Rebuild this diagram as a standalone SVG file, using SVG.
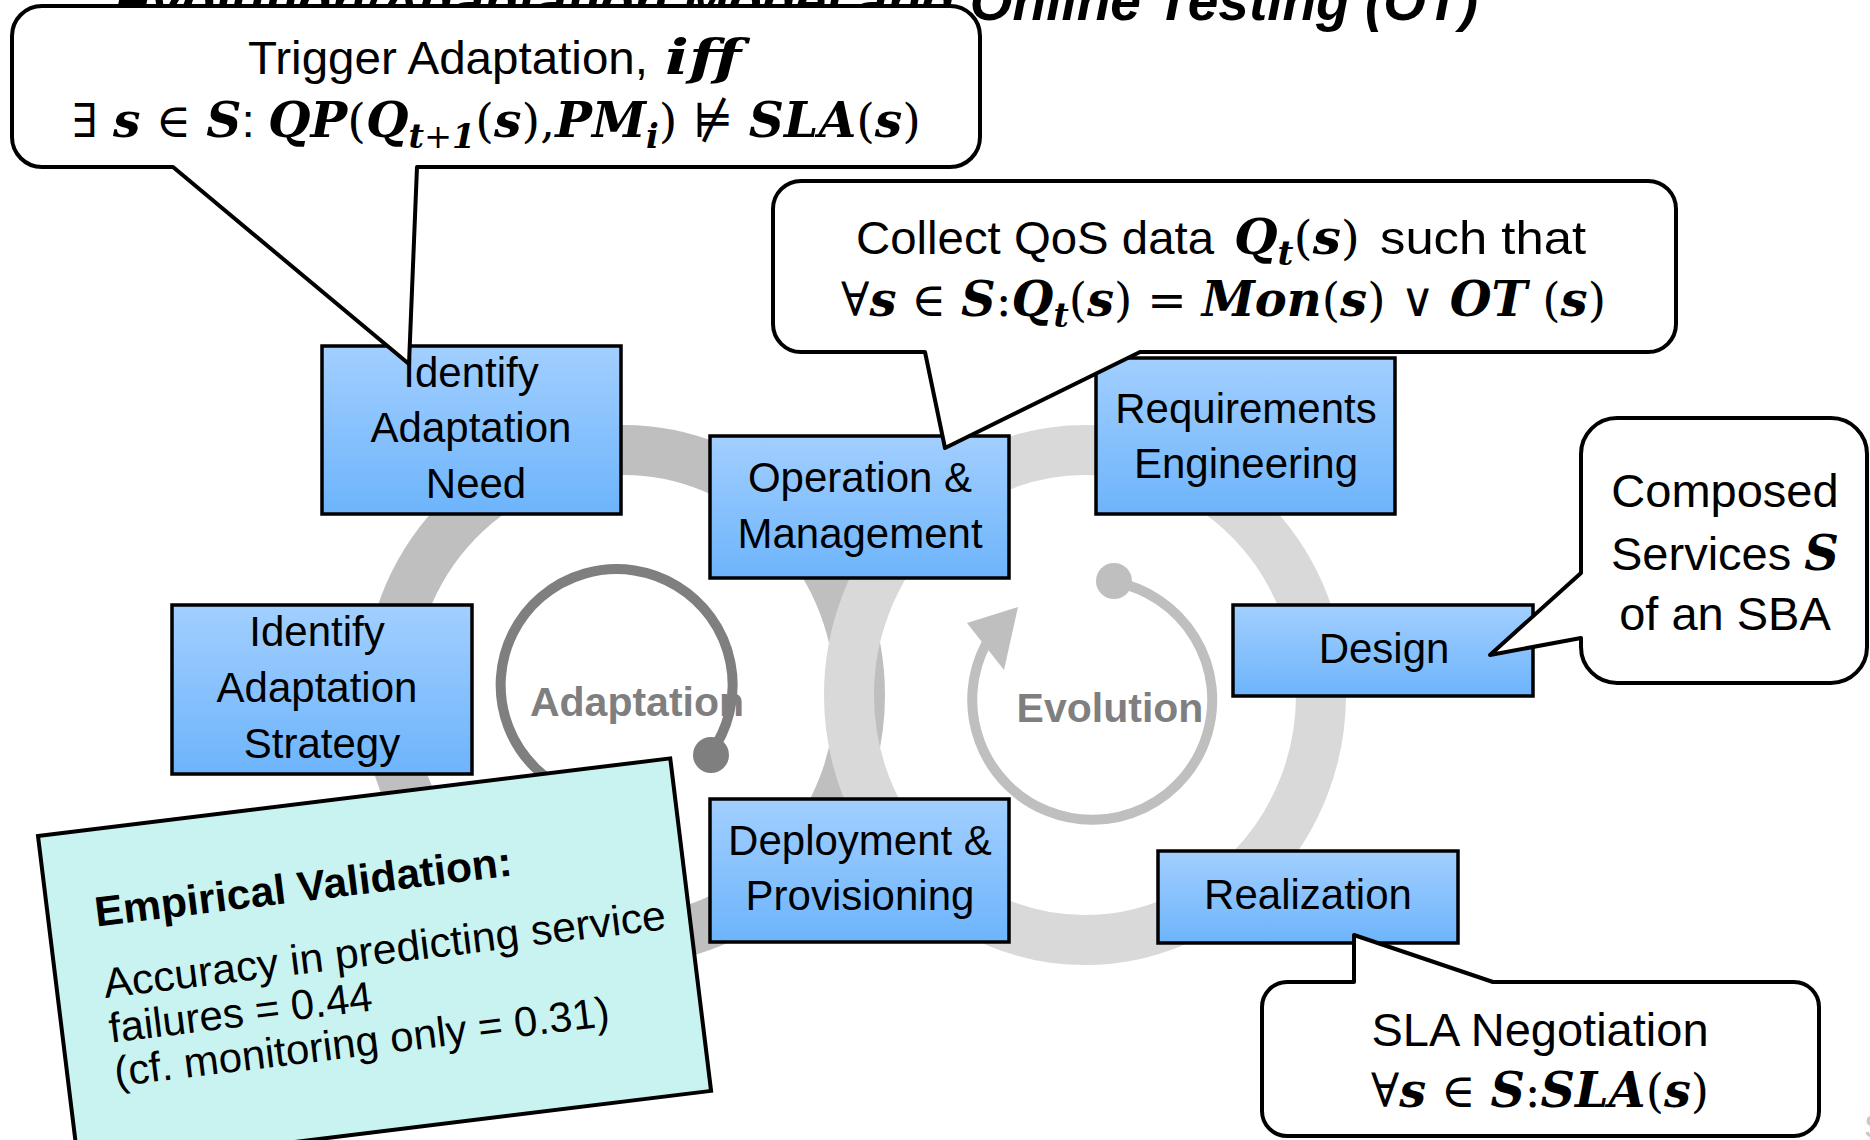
<svg xmlns="http://www.w3.org/2000/svg" width="1870" height="1140" viewBox="0 0 1870 1140">
<defs>
<linearGradient id="blue" x1="0" y1="0" x2="0" y2="1">
<stop offset="0" stop-color="#a2cfff"/>
<stop offset="1" stop-color="#6db4fb"/>
</linearGradient>
<style>
.box{fill:url(#blue);stroke:#000;stroke-width:3.5}
.lbl{font-family:"Liberation Sans",Arial,sans-serif;font-size:42px;fill:#000;text-anchor:middle}
.cal{font-family:"Liberation Sans",Arial,sans-serif;font-size:47px;fill:#000}
.mid{text-anchor:middle}
.callout{fill:#fff;stroke:#000;stroke-width:4;stroke-linejoin:round}
.m{font-family:"DejaVu Serif","Liberation Serif",serif;font-style:italic;font-weight:bold;font-size:48px}
.mu{font-family:"DejaVu Serif","Liberation Serif",serif;font-style:normal;font-weight:normal}
.sub{font-size:33px}
.loop{font-family:"Liberation Sans",Arial,sans-serif;font-size:41px;font-weight:bold;fill:#7f7f7f;text-anchor:middle}
.emp{font-family:"Liberation Sans",Arial,sans-serif;font-size:42px;fill:#000}
</style>
</defs>
<rect width="1870" height="1140" fill="#fff"/>
<text x="1478" y="20" text-anchor="end" font-family="Liberation Sans, Arial, sans-serif" font-size="55" font-weight="bold" font-style="italic" fill="#000">Evolution/Adaptation Model and Online Testing (OT)</text>

<g id="connectors">
<ellipse cx="624" cy="695" rx="236" ry="245" fill="none" stroke="#bfbfbf" stroke-width="50"/>
<ellipse cx="1085" cy="695" rx="236" ry="245" fill="none" stroke="#d9d9d9" stroke-width="50"/>
<text class="loop" x="637" y="716">Adaptation</text>
<text class="loop" x="1110" y="722">Evolution</text>
<path d="M 710 754 A 116 116 0 1 0 574 793" fill="none" stroke="#7f7f7f" stroke-width="10"/>
<circle cx="711" cy="755" r="18" fill="#7f7f7f"/>
<path d="M 1115 582 A 120 120 0 1 1 986 644" fill="none" stroke="#bfbfbf" stroke-width="10"/>
<circle cx="1114" cy="581" r="18" fill="#bfbfbf"/>
<polygon points="967,623 1018,607 1004,670" fill="#bfbfbf"/>
</g>

<g id="identify-need">
<rect class="box" x="322" y="346" width="299" height="168"/>
<text class="lbl"><tspan x="471" y="387">Identify</tspan><tspan x="471" y="442">Adaptation</tspan><tspan x="476" y="498">Need</tspan></text>
</g>
<g id="operation">
<rect class="box" x="710" y="436" width="299" height="142"/>
<text class="lbl"><tspan x="860" y="492">Operation &amp;</tspan><tspan x="860" y="548">Management</tspan></text>
</g>
<g id="requirements">
<rect class="box" x="1096" y="358" width="299" height="156"/>
<text class="lbl"><tspan x="1246" y="423">Requirements</tspan><tspan x="1246" y="478">Engineering</tspan></text>
</g>
<g id="identify-strategy">
<rect class="box" x="172" y="605" width="300" height="169"/>
<text class="lbl"><tspan x="317" y="646">Identify</tspan><tspan x="317" y="702">Adaptation</tspan><tspan x="322" y="758">Strategy</tspan></text>
</g>
<g id="design">
<rect class="box" x="1233" y="605" width="300" height="91"/>
<text class="lbl" x="1384" y="663">Design</text>
</g>
<g id="deployment">
<rect class="box" x="710" y="799" width="299" height="143"/>
<text class="lbl"><tspan x="860" y="855">Deployment &amp;</tspan><tspan x="860" y="910">Provisioning</tspan></text>
</g>
<g id="realization">
<rect class="box" x="1158" y="851" width="300" height="92"/>
<text class="lbl" x="1308" y="909">Realization</text>
</g>

<g id="callout-trigger">
<path class="callout" d="M 42 6 H 950 A 30 30 0 0 1 980 36 V 137 A 30 30 0 0 1 950 167 H 417 L 409 364 L 173 167 H 42 A 30 30 0 0 1 12 137 V 36 A 30 30 0 0 1 42 6 Z"/>
<text class="cal" x="248" y="74" textLength="400" lengthAdjust="spacingAndGlyphs">Trigger Adaptation,</text>
<text class="m" x="665" y="74" textLength="76" lengthAdjust="spacingAndGlyphs">iff</text>
<text class="cal" x="72" y="137" textLength="849" lengthAdjust="spacingAndGlyphs"><tspan class="mu">∃ </tspan><tspan class="m">s</tspan><tspan class="mu"> ∈ </tspan><tspan class="m">S</tspan>: <tspan class="m">QP</tspan><tspan class="mu">(</tspan><tspan class="m">Q</tspan><tspan class="m sub" dy="11">t</tspan><tspan class="mu sub">+</tspan><tspan class="m sub">1</tspan><tspan class="mu" dy="-11">(</tspan><tspan class="m">s</tspan><tspan class="mu">),</tspan><tspan class="m">PM</tspan><tspan class="m sub" dy="11">i</tspan><tspan class="mu" dy="-11">) ⊭ </tspan><tspan class="m">SLA</tspan><tspan class="mu">(</tspan><tspan class="m">s</tspan><tspan class="mu">)</tspan></text>
</g>

<g id="callout-collect">
<path class="callout" d="M 801 181 H 1648 A 28 28 0 0 1 1676 209 V 324 A 28 28 0 0 1 1648 352 H 1140 L 945 448 L 925 352 H 801 A 28 28 0 0 1 773 324 V 209 A 28 28 0 0 1 801 181 Z"/>
<text class="cal" x="856" y="254" textLength="358" lengthAdjust="spacingAndGlyphs">Collect QoS data</text>
<text class="cal" x="1234" y="254" textLength="126" lengthAdjust="spacingAndGlyphs"><tspan class="m">Q</tspan><tspan class="m sub" dy="11">t</tspan><tspan class="mu" dy="-11">(</tspan><tspan class="m">s</tspan><tspan class="mu">)</tspan></text>
<text class="cal" x="1380" y="254" textLength="206" lengthAdjust="spacingAndGlyphs">such that</text>
<text class="cal" x="841" y="316" textLength="765" lengthAdjust="spacingAndGlyphs"><tspan class="mu">∀</tspan><tspan class="m">s</tspan><tspan class="mu"> ∈ </tspan><tspan class="m">S</tspan><tspan class="mu">:</tspan><tspan class="m">Q</tspan><tspan class="m sub" dy="11">t</tspan><tspan class="mu" dy="-11">(</tspan><tspan class="m">s</tspan><tspan class="mu">) = </tspan><tspan class="m">Mon</tspan><tspan class="mu">(</tspan><tspan class="m">s</tspan><tspan class="mu">) ∨ </tspan><tspan class="m">OT</tspan><tspan class="mu"> (</tspan><tspan class="m">s</tspan><tspan class="mu">)</tspan></text>
</g>

<g id="callout-composed">
<path class="callout" d="M 1617 418 H 1831 A 36 36 0 0 1 1867 454 V 647 A 36 36 0 0 1 1831 683 H 1617 A 36 36 0 0 1 1581 647 V 638 L 1490 655 L 1581 573 V 454 A 36 36 0 0 1 1617 418 Z"/>
<text class="cal mid"><tspan x="1725" y="507">Composed</tspan><tspan x="1725" y="570">Services <tspan class="m">S</tspan></tspan><tspan x="1725" y="630">of an SBA</tspan></text>
</g>

<g id="callout-sla">
<path class="callout" d="M 1287 982 H 1354 V 935 L 1493 982 H 1794 A 25 25 0 0 1 1819 1007 V 1111 A 25 25 0 0 1 1794 1136 H 1287 A 25 25 0 0 1 1262 1111 V 1007 A 25 25 0 0 1 1287 982 Z"/>
<text class="cal mid" x="1540" y="1046">SLA Negotiation</text>
<text class="cal" x="1371" y="1107" textLength="338" lengthAdjust="spacingAndGlyphs"><tspan class="mu">∀</tspan><tspan class="m">s</tspan><tspan class="mu"> ∈ </tspan><tspan class="m">S</tspan><tspan class="mu">:</tspan><tspan class="m">SLA</tspan><tspan class="mu">(</tspan><tspan class="m">s</tspan><tspan class="mu">)</tspan></text>
</g>

<g id="empirical-validation" transform="translate(38 836) rotate(-7)">
<rect x="0" y="0" width="637" height="335" fill="#c9f3f1" stroke="#000" stroke-width="4"/>
<text class="emp" x="47" y="97" font-weight="bold" textLength="420" lengthAdjust="spacingAndGlyphs">Empirical Validation:</text>
<text class="emp" x="47" y="169" textLength="566" lengthAdjust="spacingAndGlyphs">Accuracy in predicting service</text>
<text class="emp" x="47" y="214">failures = 0.44</text>
<text class="emp" x="47" y="258">(cf. monitoring only = 0.31)</text>
</g>

<text x="1864" y="1138" font-family="Liberation Sans, Arial, sans-serif" font-size="34" fill="#c8c8c8">S</text>
</svg>
